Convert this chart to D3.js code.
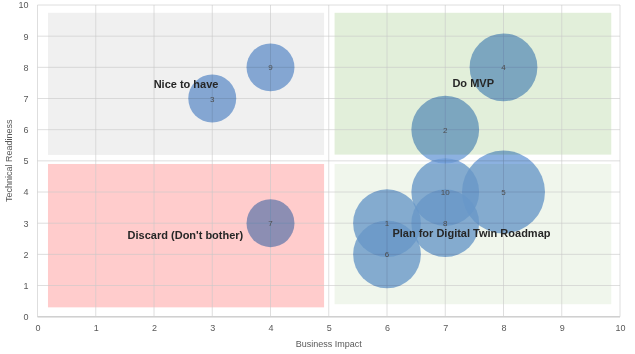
<!DOCTYPE html>
<html>
<head>
<meta charset="utf-8">
<script src="https://cdn.jsdelivr.net/npm/d3@7"></script>
<style>
  body { margin: 0; background: #fff; }
  text { font-family: "Liberation Sans", Arial, sans-serif; }
</style>
</head>
<body>
<script>
var w = 635;
var h = 354;
var margin = { top: 5, right: 15, bottom: 37.3, left: 37.5 };

// bubble data
var ids = [1, 2, 3, 4, 5, 6, 7, 8, 9, 10];
var impact = [6, 7, 3, 8, 8, 6, 4, 7, 4, 7];
var readiness = [3, 6, 7, 8, 4, 2, 3, 3, 8, 4];
var sizes = [2, 2, 1, 2, 3, 2, 1, 2, 1, 2];

// quadrant boxes [x0, x1, y0, y1] in data units
var quadNames = ["Nice to have", "Do MVP", "Discard (Don't bother)", "Plan for Digital Twin Roadmap"];
var quadX0 = [0.18, 5.1, 0.18, 5.1];
var quadX1 = [4.92, 9.85, 4.92, 9.85];
var quadY0 = [5.19, 5.2, 0.3, 0.4];
var quadY1 = [9.75, 9.75, 4.9, 4.9];
var labelX = [2.55, 7.48, 2.54, 7.45];
var labelY = [7.34, 7.37, 2.49, 2.56];
var quadFill = ["#f0f0f0", "#e2efda", "#ffcccc", "#f0f6ec"];

var ticks = [0, 1, 2, 3, 4, 5, 6, 7, 8, 9, 10];

var svg = d3.select("body")
  .append("svg")
  .attr("width", w)
  .attr("height", h);

var xScale = d3.scaleLinear()
  .domain([0, 10])
  .range([margin.left, w - margin.right]);

var yScale = d3.scaleLinear()
  .domain([0, 10])
  .range([h - margin.bottom, margin.top]);

var rScale = d3.scaleSqrt()
  .domain([0, 3])
  .range([0, 41.5]);

// quadrant backgrounds
svg.append("g").selectAll("rect")
  .data(quadNames)
  .enter()
  .append("rect")
  .attr("x", function(d, i) { return xScale(quadX0[i]); })
  .attr("y", function(d, i) { return yScale(quadY1[i]); })
  .attr("width", function(d, i) { return xScale(quadX1[i]) - xScale(quadX0[i]); })
  .attr("height", function(d, i) { return yScale(quadY0[i]) - yScale(quadY1[i]); })
  .attr("fill", function(d, i) { return quadFill[i]; });

// gridlines
var grid = svg.append("g");
grid.selectAll("line.v")
  .data(ticks)
  .enter()
  .append("line")
  .attr("class", "v")
  .attr("x1", function(d) { return xScale(d); })
  .attr("x2", function(d) { return xScale(d); })
  .attr("y1", yScale(0))
  .attr("y2", yScale(10))
  .attr("stroke", "#c8c8c8")
  .attr("stroke-opacity", 0.6)
  .attr("stroke-width", 1);

grid.selectAll("line.h")
  .data(ticks)
  .enter()
  .append("line")
  .attr("class", "h")
  .attr("x1", xScale(0))
  .attr("x2", xScale(10))
  .attr("y1", function(d) { return yScale(d); })
  .attr("y2", function(d) { return yScale(d); })
  .attr("stroke", "#c8c8c8")
  .attr("stroke-opacity", 0.6)
  .attr("stroke-width", 1);

// x axis base line
svg.append("line")
  .attr("x1", xScale(0))
  .attr("x2", xScale(10))
  .attr("y1", yScale(0))
  .attr("y2", yScale(0))
  .attr("stroke", "#d0d0d0")
  .attr("stroke-width", 1.5);

// axes (labels only)
var xAxis = d3.axisBottom(xScale).tickValues(ticks).tickSize(0).tickPadding(8);
var yAxis = d3.axisLeft(yScale).tickValues(ticks).tickSize(0).tickPadding(9);

var gx = svg.append("g")
  .attr("transform", "translate(0," + yScale(0) + ")")
  .call(xAxis);
var gy = svg.append("g")
  .attr("transform", "translate(" + xScale(0) + ",0)")
  .call(yAxis);

[gx, gy].forEach(function(g) {
  g.select(".domain").remove();
  g.selectAll("text")
    .style("font-size", "9px")
    .style("font-family", "'Liberation Sans', Arial, sans-serif")
    .attr("fill", "#595959");
});

// bubbles
var bubbles = svg.append("g").style("mix-blend-mode", "multiply");
bubbles.selectAll("circle")
  .data(ids)
  .enter()
  .append("circle")
  .attr("cx", function(d, i) { return xScale(impact[i]); })
  .attr("cy", function(d, i) { return yScale(readiness[i]); })
  .attr("r", function(d, i) { return rScale(sizes[i]); })
  .attr("fill", "#6f9dd8")
  .attr("fill-opacity", 0.8);

svg.append("g").selectAll("text")
  .data(ids)
  .enter()
  .append("text")
  .attr("x", function(d, i) { return xScale(impact[i]); })
  .attr("y", function(d, i) { return yScale(readiness[i]) + 3; })
  .attr("text-anchor", "middle")
  .style("font-size", "8px")
  .attr("fill", "#4d4d4d")
  .text(function(d) { return d; });

// quadrant labels
svg.append("g").selectAll("text")
  .data(quadNames)
  .enter()
  .append("text")
  .attr("x", function(d, i) { return xScale(labelX[i]); })
  .attr("y", function(d, i) { return yScale(labelY[i]); })
  .attr("text-anchor", "middle")
  .style("font-size", "11px")
  .style("font-weight", "bold")
  .attr("fill", "#262626")
  .text(function(d) { return d; });

// axis titles
svg.append("text")
  .attr("x", xScale(5))
  .attr("y", 347)
  .attr("text-anchor", "middle")
  .style("font-size", "9px")
  .attr("fill", "#595959")
  .text("Business Impact");

svg.append("text")
  .attr("transform", "translate(12," + yScale(5) + ") rotate(-90)")
  .attr("text-anchor", "middle")
  .style("font-size", "9px")
  .attr("fill", "#595959")
  .text("Technical Readiness");
</script>
</body>
</html>
